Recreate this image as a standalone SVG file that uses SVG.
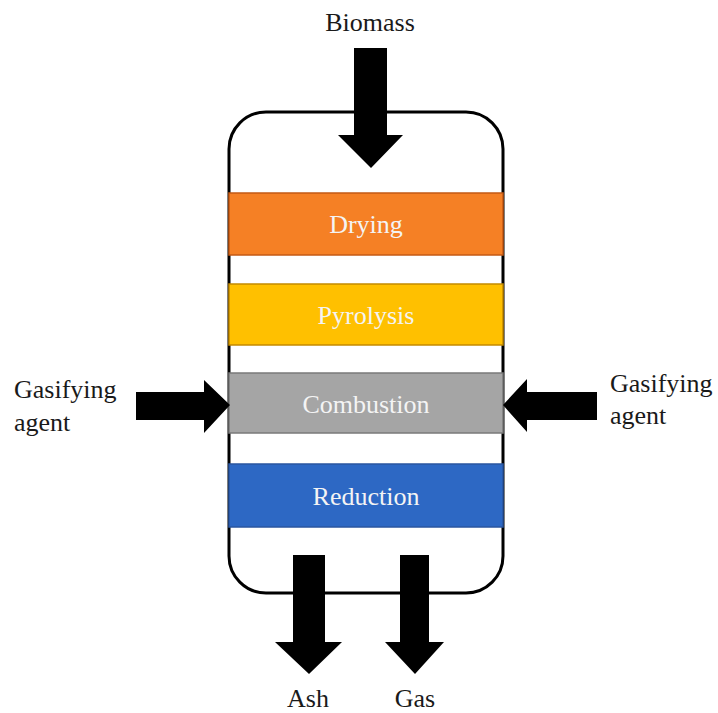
<svg xmlns="http://www.w3.org/2000/svg" width="718" height="713" viewBox="0 0 718 713">
  <style>
    .label { fill: #1a1a1a; }
    .zone-text { fill: #f4f4f4; text-anchor: middle; }
    .zone { stroke-width: 1.5; }
    .arrow { fill: #000; }
  </style>
  <rect width="718" height="713" fill="#fff"/>

  <!-- gasifier vessel -->
  <g id="vessel">
    <rect x="229" y="112" width="274" height="481" rx="37" ry="37" fill="#fff" stroke="#000" stroke-width="3"/>
  </g>

  <!-- reaction zones -->
  <g id="drying">
    <rect class="zone" x="229" y="193" width="274" height="62" fill="#F58025" stroke="#C45A14"/>
    <text class="zone-text" x="366" y="233" font-family="Liberation Serif" font-size="26">Drying</text>
  </g>
  <g id="pyrolysis">
    <rect class="zone" x="229" y="284" width="274" height="61" fill="#FFC000" stroke="#C48A00"/>
    <text class="zone-text" x="366" y="324" font-family="Liberation Serif" font-size="26">Pyrolysis</text>
  </g>
  <g id="combustion">
    <rect class="zone" x="229" y="373" width="274" height="60" fill="#A5A5A5" stroke="#7A7A7A"/>
    <text class="zone-text" x="366" y="413" font-family="Liberation Serif" font-size="26">Combustion</text>
  </g>
  <g id="reduction">
    <rect class="zone" x="229" y="464" width="274" height="63" fill="#2D68C4" stroke="#2A56A0"/>
    <text class="zone-text" x="366" y="505" font-family="Liberation Serif" font-size="26">Reduction</text>
  </g>

  <!-- stream labels -->
  <g id="biomass">
    <text class="label" x="370" y="31" text-anchor="middle" font-family="Liberation Serif" font-size="26">Biomass</text>
  </g>
  <g id="agent-left">
    <text class="label" x="14" y="398" font-family="Liberation Serif" font-size="26">Gasifying</text>
    <text class="label" x="14" y="431" font-family="Liberation Serif" font-size="26">agent</text>
  </g>
  <g id="agent-right">
    <text class="label" x="610" y="392" font-family="Liberation Serif" font-size="26">Gasifying</text>
    <text class="label" x="610" y="424" font-family="Liberation Serif" font-size="26">agent</text>
  </g>
  <g id="ash">
    <text class="label" x="308" y="707" text-anchor="middle" font-family="Liberation Serif" font-size="26">Ash</text>
  </g>
  <g id="gas">
    <text class="label" x="415" y="707" text-anchor="middle" font-family="Liberation Serif" font-size="26">Gas</text>
  </g>

  <!-- flow arrows -->
  <g id="connectors">
    <polygon class="arrow" points="354,48 387,48 387,135 403,135 371,168 338,135 354,135"/>
    <polygon class="arrow" points="136,392 204,392 204,380 230,405 204,433 204,420 136,420"/>
    <polygon class="arrow" points="597,392 527,392 527,379 503,405 527,432 527,420 597,420"/>
    <polygon class="arrow" points="293,555 325,555 325,642 342,642 309,674 275,642 293,642"/>
    <polygon class="arrow" points="400,555 429,555 429,642 444,642 415,674 385,642 400,642"/>
  </g>
</svg>
